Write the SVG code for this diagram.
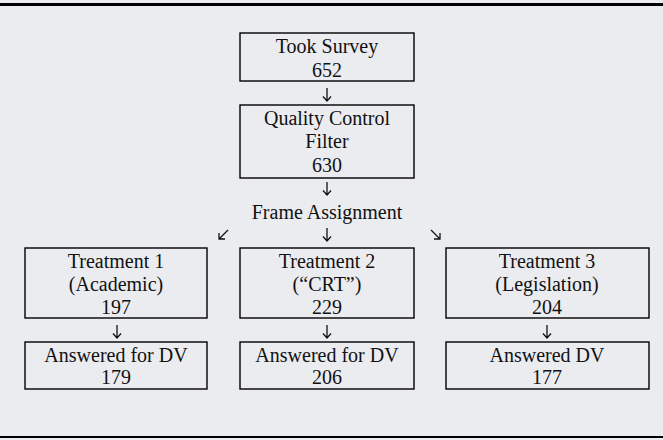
<svg xmlns="http://www.w3.org/2000/svg" width="663" height="440" viewBox="0 0 663 440">
  <style>
    .box { fill: none; stroke: #000; stroke-width: 1.4; }
    .lbl { font-family: "Liberation Serif", "Times New Roman", serif; font-size: 20px; fill: #111; text-anchor: middle; }
    .arw { fill: none; stroke: #111; stroke-width: 1.3; stroke-linecap: butt; stroke-linejoin: miter; }
    .rule { stroke: #000; }
  </style>
  <defs>
    <!-- small downward arrow, 13px tall, tip at (0,13) -->
    <path id="down" class="arw" d="M0,0 V13 M-4,8.5 L0,13 L4,8.5"/>
  </defs>
  <rect x="0" y="0" width="663" height="440" fill="#ebecf0"/>
  <line class="rule" x1="0" y1="4.5" x2="663" y2="4.5" stroke-width="3"/>
  <line class="rule" x1="0" y1="437" x2="663" y2="437" stroke-width="2"/>

  <g id="took-survey">
    <rect class="box" x="240" y="33" width="174" height="48"/>
    <text class="lbl" x="327" y="53">Took Survey</text>
    <text class="lbl" x="327" y="77">652</text>
  </g>

  <g id="quality-control">
    <rect class="box" x="240" y="105" width="174" height="73"/>
    <text class="lbl" x="327" y="125">Quality Control</text>
    <text class="lbl" x="327" y="148">Filter</text>
    <text class="lbl" x="327" y="172">630</text>
  </g>

  <g id="frame-assignment">
    <text class="lbl" x="327" y="219">Frame Assignment</text>
  </g>

  <g id="treatment-1">
    <rect class="box" x="25" y="248" width="182" height="70"/>
    <text class="lbl" x="116" y="268">Treatment 1</text>
    <text class="lbl" x="116" y="291">(Academic)</text>
    <text class="lbl" x="116" y="314">197</text>
  </g>

  <g id="treatment-2">
    <rect class="box" x="240" y="248" width="174" height="70"/>
    <text class="lbl" x="327" y="268">Treatment 2</text>
    <text class="lbl" x="327" y="291">(“CRT”)</text>
    <text class="lbl" x="327" y="314">229</text>
  </g>

  <g id="treatment-3">
    <rect class="box" x="446" y="248" width="203" height="70"/>
    <text class="lbl" x="547" y="268">Treatment 3</text>
    <text class="lbl" x="547" y="291">(Legislation)</text>
    <text class="lbl" x="547" y="314">204</text>
  </g>

  <g id="answered-1">
    <rect class="box" x="25" y="342" width="182" height="47"/>
    <text class="lbl" x="116" y="362">Answered for DV</text>
    <text class="lbl" x="116" y="384">179</text>
  </g>

  <g id="answered-2">
    <rect class="box" x="240" y="342" width="174" height="47"/>
    <text class="lbl" x="327" y="362">Answered for DV</text>
    <text class="lbl" x="327" y="384">206</text>
  </g>

  <g id="answered-3">
    <rect class="box" x="446" y="342" width="203" height="47"/>
    <text class="lbl" x="547" y="362">Answered DV</text>
    <text class="lbl" x="547" y="384">177</text>
  </g>

  <g id="connectors">
    <use href="#down" x="327" y="88"/>
    <use href="#down" x="327" y="182"/>
    <use href="#down" x="327" y="228"/>
    <!-- diagonal splits toward the outer treatments -->
    <path class="arw" d="M228,230 L219,239 M219,233 V239 H225"/>
    <path class="arw" d="M431,230 L440,239 M440,233 V239 H434"/>
    <use href="#down" x="117" y="325"/>
    <use href="#down" x="327" y="325"/>
    <use href="#down" x="547" y="325"/>
  </g>
</svg>
